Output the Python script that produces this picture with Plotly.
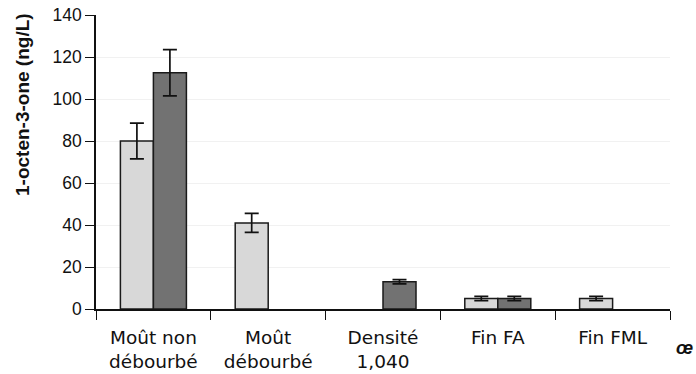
import plotly.graph_objects as go

categories = ["Moût non<br>débourbé", "Moût<br>débourbé", "Densité<br>1,040", "Fin FA", "Fin FML"]
series_a = [80, 41, None, 5, 5]
series_a_err = [8.5, 4.5, None, 1, 1]
series_b = [112.5, None, 13, 5, None]
series_b_err = [11, None, 1, 1, None]
y_ticks = [0, 20, 40, 60, 80, 100, 120, 140]

light = "#d8d8d8"
dark = "#727272"
font = "Liberation Sans"
label_font = "DejaVu Sans"

fig = go.Figure()
fig.add_trace(go.Bar(
    x=categories, y=series_a,
    marker=dict(color=light, line=dict(color="#1a1a1a", width=1.5)),
    error_y=dict(type="data", array=series_a_err, visible=True, color="#111", thickness=1.7, width=7),
    showlegend=False,
))
fig.add_trace(go.Bar(
    x=categories, y=series_b,
    marker=dict(color=dark, line=dict(color="#1a1a1a", width=1.5)),
    error_y=dict(type="data", array=series_b_err, visible=True, color="#111", thickness=1.7, width=7),
    showlegend=False,
))

fig.update_layout(
    width=696, height=374,
    margin=dict(l=96, r=26, t=15, b=65, autoexpand=False),
    paper_bgcolor="white", plot_bgcolor="white",
    barmode="group", bargap=0.425, bargroupgap=0,
    font=dict(family=font, color="#111"),
    xaxis=dict(
        showline=True, linecolor="#111", linewidth=1.6,
        ticks="outside", tickson="boundaries", ticklen=9, tickwidth=1.4, tickcolor="#111",
        tickfont=dict(size=18.5, family=label_font, color="#111"),
        ticklabelstandoff=11,
        showgrid=False, automargin=False,
    ),
    yaxis=dict(
        range=[0, 140], tickvals=y_ticks,
        showline=True, linecolor="#111", linewidth=1.6,
        ticks="outside", ticklen=9, tickwidth=1.4, tickcolor="#111",
        tickfont=dict(size=17.5, family=font, color="#111"),
        showgrid=True, gridcolor="#f1f1f1", gridwidth=1,
        zeroline=False, automargin=False,
    ),
    annotations=[
        dict(text="<b>1-octen-3-one (ng/L)</b>", textangle=-90,
             xref="paper", yref="paper",
             x=(22 - 96) / 574, y=(309 - 105) / 294,
             xanchor="center", yanchor="middle", showarrow=False,
             font=dict(size=19, family=font, color="#111")),
        dict(text="<b><i>œ</i></b>",
             xref="paper", yref="paper",
             x=(695 - 96) / 574, y=(309 - 348) / 294,
             xanchor="right", yanchor="middle", showarrow=False,
             font=dict(size=18, family=font, color="#111")),
    ],
)

fig.write_html("out.html", post_script="document.body.style.margin='0';",
               config={"displayModeBar": False})
